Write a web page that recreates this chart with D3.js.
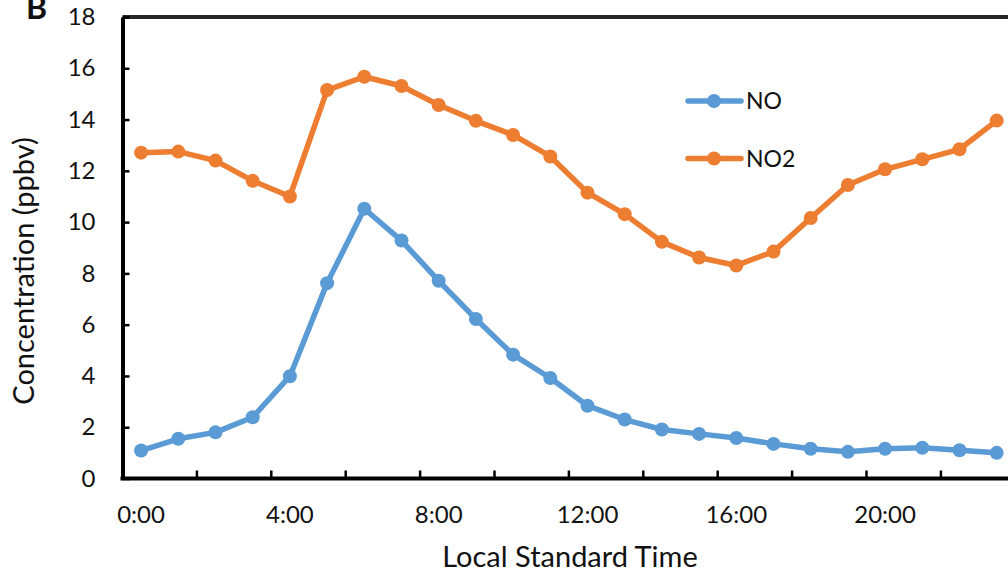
<!DOCTYPE html>
<html>
<head>
<meta charset="utf-8">
<script src="https://cdn.jsdelivr.net/npm/d3@7"></script>
<style>
  body { margin: 0; background: #fff; }
  text { font-family: Lato, "Open Sans", sans-serif; fill: #111; }
</style>
</head>
<body>
<script>
// hourly categories, series values (ppbv)
var hours = ["0:00","1:00","2:00","3:00","4:00","5:00","6:00","7:00","8:00","9:00","10:00","11:00",
             "12:00","13:00","14:00","15:00","16:00","17:00","18:00","19:00","20:00","21:00","22:00","23:00"];
var noValues  = [1.09, 1.55, 1.80, 2.39, 3.99, 7.62, 10.52, 9.28, 7.71, 6.22, 4.83, 3.92,
                 2.84, 2.30, 1.91, 1.74, 1.58, 1.35, 1.16, 1.04, 1.16, 1.20, 1.10, 1.00];
var no2Values = [12.71, 12.75, 12.40, 11.61, 11.00, 15.15, 15.67, 15.31, 14.57, 13.95, 13.40, 12.56,
                 11.15, 10.31, 9.23, 8.62, 8.31, 8.85, 10.16, 11.45, 12.06, 12.45, 12.84, 13.96];
var yTicks = [0, 2, 4, 6, 8, 10, 12, 14, 16, 18];
var xLabels = ["0:00", "4:00", "8:00", "12:00", "16:00", "20:00"];

var series = [
  {name: "NO",  values: noValues,  color: "#5B9BD5"},
  {name: "NO2", values: no2Values, color: "#ED7D31"}
];

var W = 1008, H = 576;
var plotLeft = 122.5, plotTop = 17, plotBottom = 478.5, step = 37.2;

var svg = d3.select("body").append("svg")
    .attr("width", W)
    .attr("height", H);

var x = d3.scaleBand()
    .domain(hours)
    .range([plotLeft, plotLeft + step * hours.length]);

var y = d3.scaleLinear()
    .domain([0, 18])
    .range([plotBottom, plotTop]);

// top frame line
svg.append("line")
    .attr("x1", plotLeft).attr("x2", W)
    .attr("y1", y(18)).attr("y2", y(18))
    .attr("stroke", "#262626")
    .attr("stroke-width", 4);

// y axis, ticks pointing inward
var yAxis = svg.append("g")
    .attr("transform", "translate(" + plotLeft + ",0)")
    .call(d3.axisLeft(y).tickValues(yTicks).tickSizeInner(-7).tickSizeOuter(0).tickPadding(27));
yAxis.attr("font-family", null).attr("font-size", null);
yAxis.select(".domain").attr("stroke", "#000").attr("stroke-width", 4);
yAxis.selectAll(".tick line").attr("stroke", "#000").attr("stroke-width", 2.5);
yAxis.selectAll(".tick text")
    .style("font-size", "24px")
    .attr("fill", "#111");

// x axis: ticks every 2 categories on band edges, labels every 4 hours
var xAxis = svg.append("g");
xAxis.append("line")
    .attr("x1", plotLeft - 2).attr("x2", W)
    .attr("y1", plotBottom).attr("y2", plotBottom)
    .attr("stroke", "#000")
    .attr("stroke-width", 4);

var tickHours = hours.filter(function(h, i) { return i > 0 && i % 2 == 0; });
xAxis.selectAll("line.tick")
    .data(tickHours)
  .enter().append("line")
    .attr("class", "tick")
    .attr("x1", function(d) { return x(d); })
    .attr("x2", function(d) { return x(d); })
    .attr("y1", plotBottom).attr("y2", plotBottom - 8)
    .attr("stroke", "#000")
    .attr("stroke-width", 2.5);

xAxis.selectAll("text")
    .data(xLabels)
  .enter().append("text")
    .attr("x", function(d) { return x(d) + x.bandwidth() / 2; })
    .attr("y", 523)
    .attr("text-anchor", "middle")
    .style("font-size", "24px")
    .text(function(d) { return d; });

// axis titles
svg.append("text")
    .attr("x", 570)
    .attr("y", 567)
    .attr("text-anchor", "middle")
    .style("font-size", "29px")
    .text("Local Standard Time");

svg.append("text")
    .attr("transform", "translate(34,271) rotate(-90)")
    .attr("text-anchor", "middle")
    .style("font-size", "29px")
    .text("Concentration (ppbv)");

// panel letter (cut by the top edge, as in the source)
svg.append("text")
    .attr("x", 26)
    .attr("y", 19)
    .style("font-size", "32px")
    .style("font-weight", "bold")
    .text("B");

// lines and markers
var line = d3.line()
    .x(function(d, i) { return x(hours[i]) + x.bandwidth() / 2; })
    .y(function(d) { return y(d); });

series.forEach(function(s) {
  svg.append("path")
      .datum(s.values)
      .attr("fill", "none")
      .attr("stroke", s.color)
      .attr("stroke-width", 5.5)
      .attr("stroke-linejoin", "round")
      .attr("d", line);

  svg.selectAll(null)
      .data(s.values)
    .enter().append("circle")
      .attr("cx", function(d, i) { return x(hours[i]) + x.bandwidth() / 2; })
      .attr("cy", function(d) { return y(d); })
      .attr("r", 7)
      .attr("fill", s.color);
});

// legend
var legend = svg.append("g");
series.forEach(function(s, i) {
  var ly = 101 + i * 57.5;
  legend.append("line")
      .attr("x1", 688).attr("x2", 741)
      .attr("y1", ly).attr("y2", ly)
      .attr("stroke", s.color)
      .attr("stroke-width", 5.5)
      .attr("stroke-linecap", "round");
  legend.append("circle")
      .attr("cx", 714).attr("cy", ly)
      .attr("r", 7)
      .attr("fill", s.color);
  legend.append("text")
      .attr("x", 746)
      .attr("y", ly + 8)
      .style("font-size", "23px")
      .text(s.name);
});
</script>
</body>
</html>
